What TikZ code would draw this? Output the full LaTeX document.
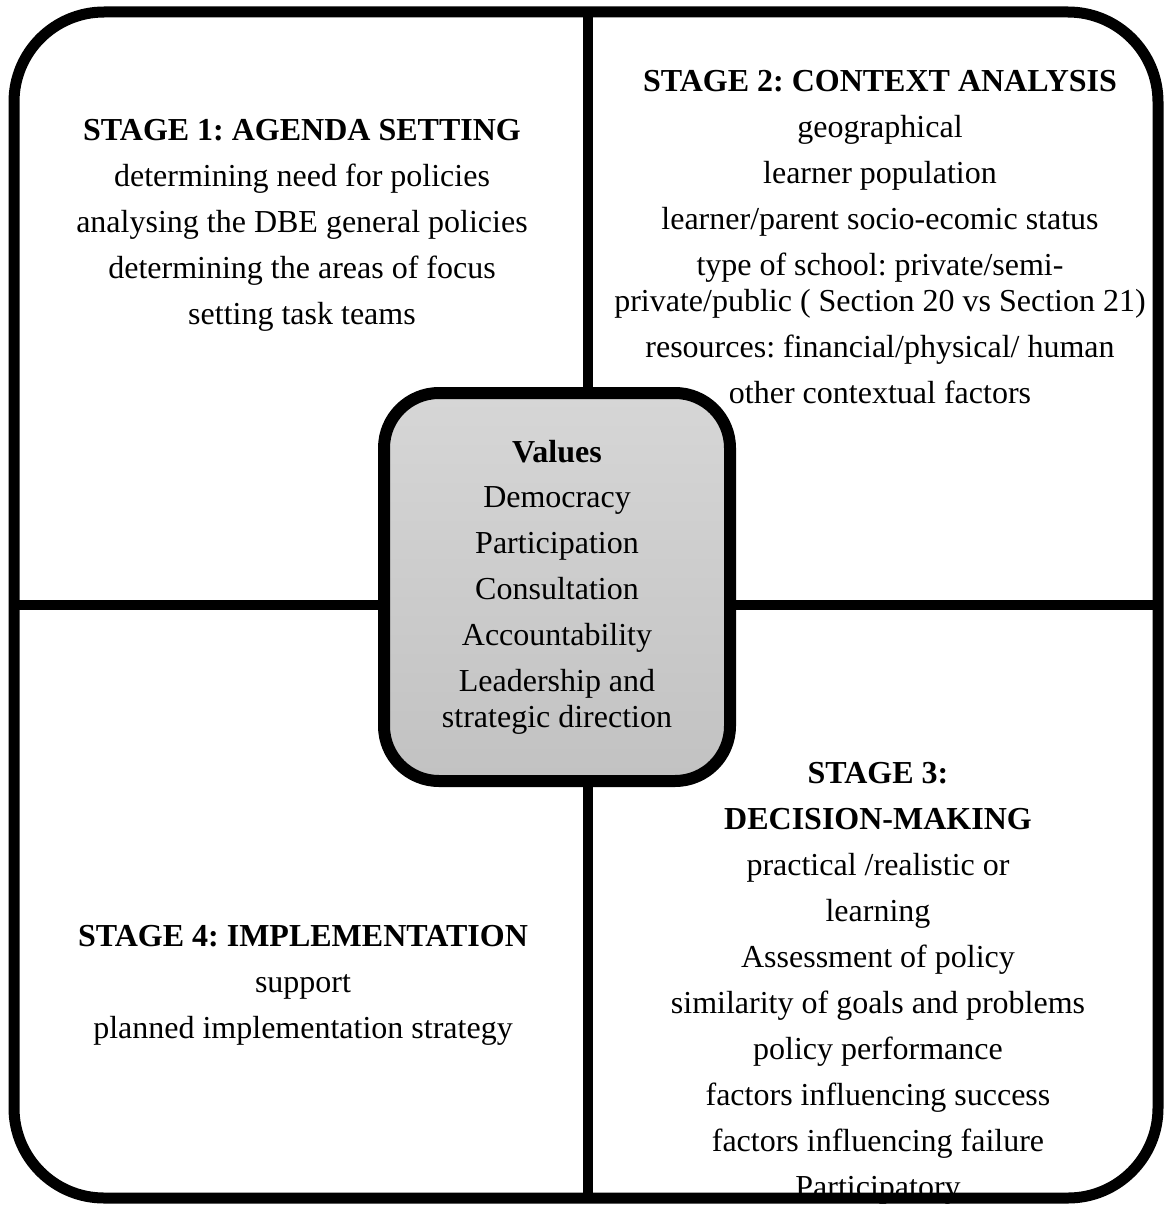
\documentclass[tikz,border=0pt]{standalone}
\usepackage{fontspec}
\setmainfont{Liberation Serif}
\frenchspacing
\tikzset{
  stagetext/.style = {align=center, inner sep=0pt,
    font=\fontsize{32}{46}\selectfont},
  valuesbox/.style = {draw, line width=12pt, rounded corners=55pt,
    top color=black!16, bottom color=black!24,
    minimum width=346pt, minimum height=388pt, align=center,
    font=\fontsize{32}{46}\selectfont}
}
\newcommand{\wrapgap}{\\[-10pt]}
\begin{document}
\begin{tikzpicture}[x=1pt, y=-1pt]
  \useasboundingbox (0,0) rectangle (1167,1207);
  % quadrant dividers
  \coordinate (top) at (588,12);
  \coordinate (bottom) at (588,1198);
  \coordinate (left) at (14,605);
  \coordinate (right) at (1158,605);
  \draw[line width=10pt] (top) -- (bottom);
  \draw[line width=10pt] (left) -- (right);
  % stage texts
  \node[stagetext] (stageone) at (302,225) {%
    \textbf{STAGE 1: AGENDA SETTING}\\
    determining need for policies\\
    analysing the DBE general policies\\
    determining the areas of focus\\
    setting task teams};
  \node[stagetext] (stagetwo) at (880,237) {%
    \textbf{STAGE 2: CONTEXT ANALYSIS}\\
    geographical\\
    learner population\\
    learner/parent socio-ecomic status\\
    type of school: private/semi-\wrapgap
    private/public ( Section 20 vs Section 21)\\
    resources: financial/physical/ human\\
    other contextual factors};
  \node[stagetext] (stagethree) at (878,983) {%
    \textbf{STAGE 3:}\\
    \textbf{DECISION-MAKING}\\
    practical /realistic or\\
    learning\\
    Assessment of policy\\
    similarity of goals and problems\\
    policy performance\\
    factors influencing success\\
    factors influencing failure\\
    Participatory};
  \node[stagetext] (stagefour) at (303,985) {%
    \textbf{STAGE 4: IMPLEMENTATION}\\
    support\\
    planned implementation strategy};
  % outer frame
  \draw[line width=11pt, rounded corners=90pt] (14,12) rectangle (1158,1198);
  % values in the middle
  \node[valuesbox] (values) at (557,587) {%
    \textbf{Values}\\[-1pt]
    Democracy\\
    Participation\\
    Consultation\\
    Accountability\\
    Leadership and\wrapgap
    strategic direction};
\end{tikzpicture}
\end{document}
